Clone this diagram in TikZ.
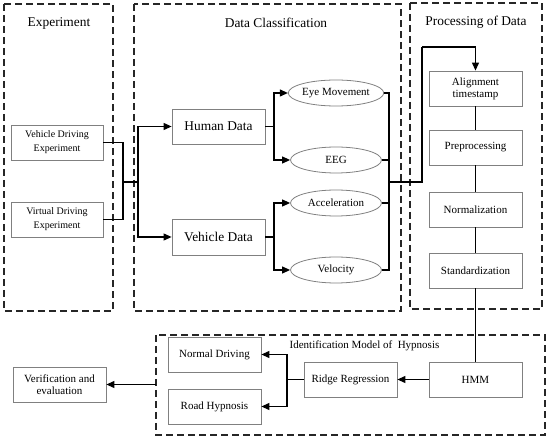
\documentclass[tikz,border=0pt]{standalone}
\usepackage{fontspec}
\setmainfont{Liberation Serif}
\usetikzlibrary{arrows.meta,shapes.geometric}
\begin{document}
\begin{tikzpicture}[x=1pt,y=-1pt,
  box/.style={draw=black!50,line width=0.8pt,rectangle,minimum width=93pt,minimum height=35pt,inner sep=1pt,align=center,font=\fontsize{11}{12}\selectfont},
  smallbox/.style={box,minimum width=92pt,font=\fontsize{10}{14}\selectfont},
  bigbox/.style={box,font=\fontsize{13.4}{15}\selectfont},
  oval/.style={draw=black!50,line width=0.8pt,ellipse,minimum width=91pt,minimum height=26pt,inner sep=0pt,font=\fontsize{11}{12}\selectfont},
  group/.style={draw=black!85,line width=1.2pt,dash pattern=on 7pt off 4pt},
  title/.style={font=\fontsize{13.4}{15}\selectfont,inner sep=0pt},
  conn/.style={draw=black,line width=1.1pt},
  arr/.style={conn,-{Triangle[length=8pt,width=7pt]}}
]
\useasboundingbox (0,0) rectangle (550,443);
% group frames
\draw[group] (4,4) rectangle (113,311);
\draw[group] (134,4) rectangle (401,311);
\draw[group] (410,3) rectangle (542,309);
\draw[group] (156,335) rectangle (545,435);
% titles
\node[title] (t1) at (59,23) {Experiment};
\node[title] (t2) at (276,23) {Data Classification};
\node[title] (t3) at (476,22) {Processing of Data};
\node[font=\fontsize{11}{12}\selectfont,inner sep=0pt] (t4) at (364.5,346) {Identification Model of \ Hypnosis};
% nodes
\node[smallbox] (vde) at (57,142.5) {Vehicle Driving\\Experiment};
\node[smallbox] (vie) at (57,219.5) {Virtual Driving\\Experiment};
\node[bigbox] (human) at (218.5,126.5) {Human Data};
\node[bigbox,minimum height=36pt] (vehicle) at (218.5,237) {Vehicle Data};
\node[oval] (eye) at (336,93) {Eye Movement};
\node[oval] (eeg) at (336,160) {EEG};
\node[oval] (acc) at (336,203) {Acceleration};
\node[oval] (vel) at (336,270) {Velocity};
\node[box] (align) at (475.5,88.5) {Alignment\\timestamp};
\node[box] (pre) at (475.5,147.5) {Preprocessing};
\node[box] (norm) at (475.5,209.5) {Normalization};
\node[box] (std) at (475.5,270.5) {Standardization};
\node[box] (hmm) at (475.5,379.5) {HMM};
\node[box] (ridge) at (350.5,379.5) {Ridge Regression};
\node[box] (normal) at (214.5,354.5) {Normal Driving};
\node[box] (road) at (214.5,406.5) {Road Hypnosis};
\node[box] (verif) at (59.5,384.5) {Verification and\\evaluation};
% junction coordinates
\coordinate (j1) at (123,182);
\coordinate (j2) at (138,182);
\coordinate (hb) at (274,126.5);
\coordinate (vb) at (274,237);
\coordinate (j3) at (389,182);
\coordinate (j4) at (422,47);
\coordinate (rb) at (287,379.5);
\coordinate (ida) at (156,384.5);
% connectors
\draw[conn] (vde.east) -| (j1);
\draw[conn] (vie.east) -| (j1);
\draw[conn] (j1) -- (j2);
\draw[arr] (j2) |- (human.west);
\draw[arr] (j2) |- (vehicle.west);
\draw[conn] (human.east) -- (hb);
\draw[arr] (hb) |- (eye.west);
\draw[arr] (hb) |- (eeg.west);
\draw[conn] (vehicle.east) -- (vb);
\draw[arr] (vb) |- (acc.west);
\draw[arr] (vb) |- (vel.west);
\draw[conn] (eye.east) -| (j3);
\draw[conn] (eeg.east) -| (j3);
\draw[conn] (acc.east) -| (j3);
\draw[conn] (vel.east) -| (j3);
\draw[conn] (j3) -| (j4);
\draw[arr] (j4) -| (align.north);
\draw[conn] (align.south) -- (pre.north);
\draw[conn] (pre.south) -- (norm.north);
\draw[conn] (norm.south) -- (std.north);
\draw[conn] (std.south) -- (hmm.north);
\draw[arr] (hmm.west) -- (ridge.east);
\draw[conn] (ridge.west) -- (rb);
\draw[arr] (rb) |- (normal.east);
\draw[arr] (rb) |- (road.east);
\draw[arr] (ida) -- (verif.east);
\end{tikzpicture}
\end{document}
